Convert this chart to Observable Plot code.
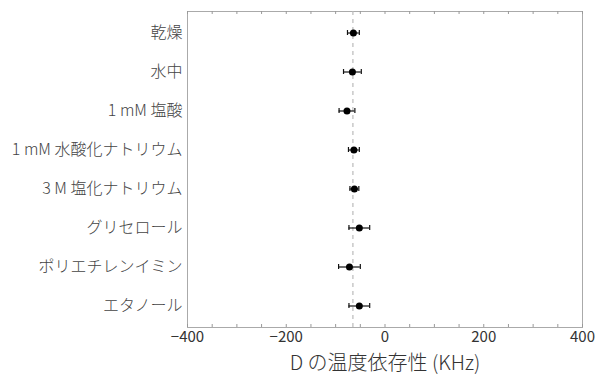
<!DOCTYPE html>
<html>
<head>
<meta charset="utf-8">
<script src="https://cdn.jsdelivr.net/npm/d3@7"></script>
<script src="https://cdn.jsdelivr.net/npm/@observablehq/plot@0.6"></script>
<style>
  html, body { margin: 0; padding: 0; background: #fff; }
  svg { display: block; }
</style>
</head>
<body>
<div id="chart"></div>
<script>
const categories = ["乾燥", "水中", "1 mM 塩酸", "1 mM 水酸化ナトリウム", "3 M 塩化ナトリウム", "グリセロール", "ポリエチレンイミン", "エタノール"];
const values = [-64, -66, -77, -63, -62, -52, -72, -52];
const errors = [12, 18, 16, 11, 9, 21, 22, 21];
const referenceLine = [-65];
const majorTicks = [-400, -200, 0, 200, 400];
const minorTicks = d3.range(-400, 401, 50);
const xLabel = "D の温度依存性 (KHz)";

const data = categories.map((c, i) => ({name: c, v: values[i], lo: values[i] - errors[i], hi: values[i] + errors[i]}));

const font = "'Noto Sans CJK JP', 'Noto Sans', sans-serif";
const W = 597, H = 374, mt = 11, mb = 47, ml = 187, mr = 15;
const innerH = H - mt - mb;

const chart = Plot.plot({
  width: W, height: H,
  marginTop: mt, marginBottom: mb, marginLeft: ml, marginRight: mr,
  style: {fontFamily: font, background: "#fff"},
  x: {domain: [-400, 400]},
  y: {domain: categories, type: "band", padding: 0},
  marks: [
    Plot.frame({stroke: "#aaa", strokeWidth: 1}),
    Plot.ruleX(minorTicks, {x: d => d, stroke: "#999", insetTop: innerH - 3}),
    Plot.ruleX(minorTicks, {x: d => d, stroke: "#999", insetBottom: innerH - 3}),
    Plot.ruleX(referenceLine, {x: d => d, stroke: "#bbb", strokeWidth: 1.2, strokeDasharray: "4,4"}),
    Plot.ruleY(data, {y: "name", x1: "lo", x2: "hi", stroke: "#111", strokeWidth: 1.2}),
    Plot.tickX(data, {y: "name", x: "lo", stroke: "#111", strokeWidth: 1.2, insetTop: 17, insetBottom: 17}),
    Plot.tickX(data, {y: "name", x: "hi", stroke: "#111", strokeWidth: 1.2, insetTop: 17, insetBottom: 17}),
    Plot.dot(data, {y: "name", x: "v", r: 3.5, fill: "#000", stroke: null}),
    Plot.axisY({tickSize: 0, tickPadding: 5, fontSize: 16, fontWeight: 300, fill: "#444", label: null}),
    Plot.axisX({ticks: majorTicks, tickSize: 0, tickPadding: 4, fontSize: 15, fill: "#333",
      label: xLabel, labelAnchor: "center", labelArrow: "none", labelOffset: 42})
  ]
});
chart.querySelectorAll("g[aria-label='x-axis label']").forEach(e => { e.setAttribute("font-size", 20); e.setAttribute("fill", "#333"); e.setAttribute("font-weight", 300); });
document.getElementById("chart").appendChild(chart);
</script>
</body>
</html>
